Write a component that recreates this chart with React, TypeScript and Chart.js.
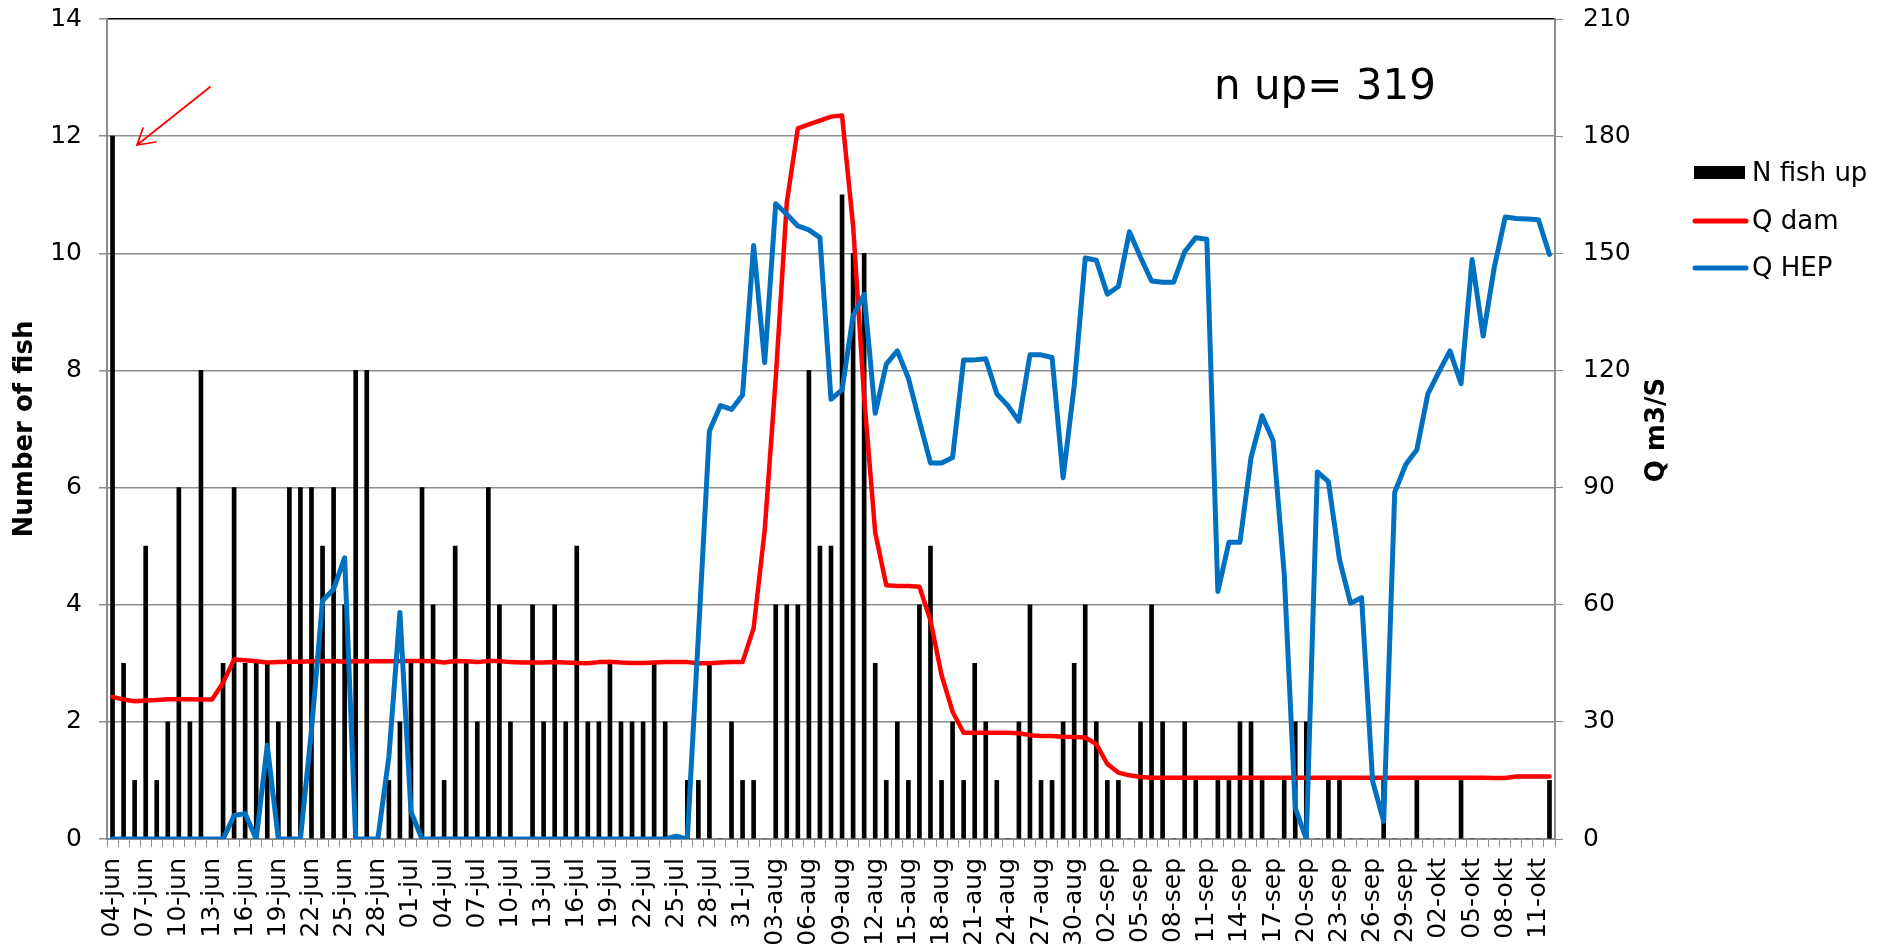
import React, { useEffect, useRef } from 'react';
import { Chart, registerables } from 'chart.js';

Chart.register(...registerables);

// ---------- data ----------
const categories = [
  '04-jun','05-jun','06-jun','07-jun','08-jun','09-jun','10-jun','11-jun','12-jun','13-jun',
  '14-jun','15-jun','16-jun','17-jun','18-jun','19-jun','20-jun','21-jun','22-jun','23-jun',
  '24-jun','25-jun','26-jun','27-jun','28-jun','29-jun','30-jun',
  '01-jul','02-jul','03-jul','04-jul','05-jul','06-jul','07-jul','08-jul','09-jul','10-jul',
  '11-jul','12-jul','13-jul','14-jul','15-jul','16-jul','17-jul','18-jul','19-jul','20-jul',
  '21-jul','22-jul','23-jul','24-jul','25-jul','26-jul','27-jul','28-jul','29-jul','30-jul','31-jul',
  '01-aug','02-aug','03-aug','04-aug','05-aug','06-aug','07-aug','08-aug','09-aug','10-aug',
  '11-aug','12-aug','13-aug','14-aug','15-aug','16-aug','17-aug','18-aug','19-aug','20-aug',
  '21-aug','22-aug','23-aug','24-aug','25-aug','26-aug','27-aug','28-aug','29-aug','30-aug','31-aug',
  '01-sep','02-sep','03-sep','04-sep','05-sep','06-sep','07-sep','08-sep','09-sep','10-sep',
  '11-sep','12-sep','13-sep','14-sep','15-sep','16-sep','17-sep','18-sep','19-sep','20-sep',
  '21-sep','22-sep','23-sep','24-sep','25-sep','26-sep','27-sep','28-sep','29-sep','30-sep',
  '01-okt','02-okt','03-okt','04-okt','05-okt','06-okt','07-okt','08-okt','09-okt','10-okt',
  '11-okt','12-okt'
];

const fishUp = [
  12, 3, 1, 5, 1, 2, 6, 2, 8, 0,
  3, 6, 3, 3, 3, 2, 6, 6, 6, 5,
  6, 4, 8, 8, 0, 1, 2, 3, 6, 4,
  1, 5, 3, 2, 6, 4, 2, 0, 4, 2,
  4, 2, 5, 2, 2, 3, 2, 2, 2, 3,
  2, 0, 1, 1, 3, 0, 2, 1, 1, 0,
  4, 4, 4, 8, 5, 5, 11, 10, 10, 3,
  1, 2, 1, 4, 5, 1, 2, 1, 3, 2,
  1, 0, 2, 4, 1, 1, 2, 3, 4, 2,
  1, 1, 0, 2, 4, 2, 0, 2, 1, 0,
  1, 1, 2, 2, 1, 0, 1, 2, 2, 0,
  1, 1, 0, 0, 0, 1, 0, 0, 1, 0,
  0, 0, 1, 0, 0, 0, 0, 0, 0, 0,
  1
];

const qDam = [
  36.4, 35.7, 35.3, 35.5, 35.6, 35.8, 35.8, 35.8, 35.7, 35.7,
  40, 46, 45.8, 45.5, 45.2, 45.3, 45.4, 45.4, 45.5, 45.5,
  45.6, 45.4, 45.5, 45.5, 45.5, 45.5, 45.6, 45.6, 45.6, 45.5,
  45.2, 45.6, 45.5, 45.3, 45.6, 45.6, 45.3, 45.2, 45.2, 45.2,
  45.3, 45.2, 45.1, 45.0, 45.3, 45.4, 45.2, 45.1, 45.1, 45.2,
  45.3, 45.3, 45.3, 45.0, 45.0, 45.2, 45.3, 45.3, 54, 79,
  118, 163, 182, 183, 184, 185, 185.3, 157, 113, 78.5,
  65, 64.8, 64.8, 64.6, 56, 42, 32.6, 27.2, 27.2, 27.2,
  27.2, 27.2, 27.1, 26.6, 26.4, 26.4, 26.2, 26.1, 26.0, 24.3,
  19.2, 17, 16.3, 15.9, 15.7, 15.7, 15.7, 15.7, 15.7, 15.7,
  15.7, 15.7, 15.7, 15.7, 15.7, 15.7, 15.7, 15.7, 15.7, 15.7,
  15.7, 15.7, 15.7, 15.7, 15.7, 15.7, 15.7, 15.7, 15.7, 15.7,
  15.7, 15.7, 15.7, 15.7, 15.7, 15.6, 15.6, 16, 16, 16,
  16
];

const qHep = [
  0, 0, 0, 0, 0, 0, 0, 0, 0, 0,
  0, 6, 6.5, 0, 24, 0, 0, 0, 28, 61,
  64, 72, 0, 0, 0, 21, 58, 7, 0, 0,
  0, 0, 0, 0, 0, 0, 0, 0, 0, 0,
  0, 0, 0, 0, 0, 0, 0, 0, 0, 0,
  0, 0.7, 0, 52, 104.5, 111, 110, 113.7, 152, 122,
  162.7, 160, 157, 156, 154, 112.6, 115, 134, 139.5, 109,
  121.6, 125, 118, 107, 96.3, 96.3, 97.7, 122.7, 122.7, 123,
  114, 111, 107, 124, 124, 123.3, 92.5, 116, 148.8, 148.2,
  139.5, 141.5, 155.5, 149, 142.9, 142.6, 142.6, 150.4, 154, 153.6,
  63.4, 76, 76, 97.7, 108.4, 102, 68, 8, 0, 94,
  91.5, 71.6, 60.4, 61.8, 14.8, 4.5, 88.8, 95.9, 99.7, 114,
  119.6, 125, 116.6, 148.4, 128.8, 146.3, 159.3, 158.9, 158.8, 158.6,
  149.7
];

const seriesNames = ['N fish up', 'Q dam', 'Q HEP'];
const seriesColors = ['#000000', '#FF0000', '#0070C0'];
const leftTitle = 'Number of fish';
const rightTitle = 'Q m3/S';
const annotationText = 'n up= 319';
const leftAxis = { min: 0, max: 14, step: 2 };
const rightAxis = { min: 0, max: 210, step: 30 };
const labelEvery = 3;

const FONT = '"DejaVu Sans", Verdana, sans-serif';
const GRID = '#8c8c8c';

const overlayPlugin = {
  id: 'overlay',
  afterDraw(chart: any) {
    const ctx = chart.ctx as CanvasRenderingContext2D;
    ctx.save();
    ctx.fillStyle = '#000';
    // axis titles
    ctx.font = `bold 26px ${FONT}`;
    ctx.textAlign = 'center';
    ctx.textBaseline = 'middle';
    ctx.save();
    ctx.translate(25, 429);
    ctx.rotate(-Math.PI / 2);
    ctx.fillText(leftTitle, 0, 0);
    ctx.restore();
    ctx.save();
    ctx.translate(1657, 430);
    ctx.rotate(-Math.PI / 2);
    ctx.fillText(rightTitle, 0, 0);
    ctx.restore();

    // annotation
    ctx.font = `42px ${FONT}`;
    ctx.textAlign = 'left';
    ctx.textBaseline = 'alphabetic';
    ctx.fillText(annotationText, 1214, 99);

    // arrow
    ctx.strokeStyle = '#FF0000';
    ctx.lineWidth = 1.7;
    ctx.lineCap = 'round';
    ctx.beginPath();
    ctx.moveTo(210, 87);
    ctx.lineTo(137, 145);
    ctx.moveTo(143, 128);
    ctx.lineTo(137, 145);
    ctx.lineTo(156, 142);
    ctx.stroke();

    // legend
    const rows = [173, 221, 268];
    ctx.font = `26px ${FONT}`;
    ctx.textBaseline = 'middle';
    ctx.textAlign = 'left';
    rows.forEach((y, i) => {
      if (i === 0) {
        ctx.fillStyle = seriesColors[0];
        ctx.fillRect(1694, y - 7, 51, 13);
      } else {
        ctx.strokeStyle = seriesColors[i];
        ctx.lineWidth = 5;
        ctx.lineCap = 'round';
        ctx.beginPath();
        ctx.moveTo(1695, y);
        ctx.lineTo(1746, y);
        ctx.stroke();
      }
      ctx.fillStyle = '#000';
      ctx.fillText(seriesNames[i], 1752, y + 1);
    });
    ctx.restore();
  },
};

const noVerticalPad = (scale: any, width: number) => {
  scale.width = width;
  scale.paddingTop = 0;
  scale.paddingBottom = 0;
};

export default function App() {
  const canvasRef = useRef<HTMLCanvasElement | null>(null);

  useEffect(() => {
    const canvas = canvasRef.current;
    if (!canvas) return;
    Chart.defaults.font.family = FONT;
    Chart.defaults.color = '#000';

    const chart = new Chart(canvas, {
      type: 'bar',
      data: {
        labels: categories,
        datasets: [
          {
            type: 'line',
            label: seriesNames[2],
            data: qHep,
            yAxisID: 'y1',
            borderColor: seriesColors[2],
            backgroundColor: seriesColors[2],
            borderWidth: 5,
            pointRadius: 0,
            tension: 0,
            borderJoinStyle: 'round',
            borderCapStyle: 'round',
            order: 1,
          } as any,
          {
            type: 'line',
            label: seriesNames[1],
            data: qDam,
            yAxisID: 'y1',
            borderColor: seriesColors[1],
            backgroundColor: seriesColors[1],
            borderWidth: 4.5,
            pointRadius: 0,
            tension: 0,
            borderJoinStyle: 'round',
            borderCapStyle: 'round',
            order: 2,
          } as any,
          {
            type: 'bar',
            label: seriesNames[0],
            data: fishUp,
            yAxisID: 'y',
            backgroundColor: seriesColors[0],
            barThickness: 4,
            order: 3,
          } as any,
        ],
      },
      options: {
        responsive: false,
        animation: false,
        devicePixelRatio: 1,
        layout: { padding: { left: 0, right: 250, top: 19, bottom: 0 } },
        plugins: {
          legend: { display: false },
          tooltip: { enabled: false },
          title: { display: false },
        },
        scales: {
          x: {
            type: 'category',
            offset: true,
            grid: {
              offset: true,
              drawOnChartArea: false,
              drawTicks: true,
              tickLength: 8,
              color: GRID,
              tickColor: GRID,
            },
            border: { color: GRID, width: 2 },
            ticks: {
              autoSkip: false,
              minRotation: 90,
              maxRotation: 90,
              padding: 11,
              font: { size: 25, family: FONT },
              color: '#000',
              callback: (_v: any, i: number) => (i % labelEvery === 0 ? categories[i] : ''),
            },
            afterFit: (scale: any) => {
              scale.height = 111;
            },
          },
          y: {
            position: 'left',
            min: leftAxis.min,
            max: leftAxis.max,
            grid: {
              drawOnChartArea: true,
              drawTicks: true,
              tickLength: 8,
              lineWidth: 1.5,
              color: (c: any) => (c.tick && c.tick.value === leftAxis.max ? '#000' : GRID),
              tickColor: GRID,
            },
            border: { color: GRID, width: 2 },
            ticks: {
              stepSize: leftAxis.step,
              padding: 17,
              font: { size: 25, family: FONT },
              color: '#000',
            },
            afterFit: (scale: any) => noVerticalPad(scale, 107),
          },
          y1: {
            position: 'right',
            min: rightAxis.min,
            max: rightAxis.max,
            grid: {
              drawOnChartArea: false,
              drawTicks: true,
              tickLength: 8,
              color: GRID,
              tickColor: GRID,
            },
            border: { color: GRID, width: 2 },
            ticks: {
              stepSize: rightAxis.step,
              padding: 20,
              font: { size: 25, family: FONT },
              color: '#000',
            },
            afterFit: (scale: any) => noVerticalPad(scale, 80),
          },
        },
      },
      plugins: [overlayPlugin],
    } as any);

    return () => chart.destroy();
  }, []);

  return (
    <div style={{ position: 'absolute', left: 0, top: 0, width: 1885, height: 950, background: '#fff' }}>
      <canvas ref={canvasRef} width={1885} height={950} style={{ width: 1885, height: 950, display: 'block' }} />
    </div>
  );
}
